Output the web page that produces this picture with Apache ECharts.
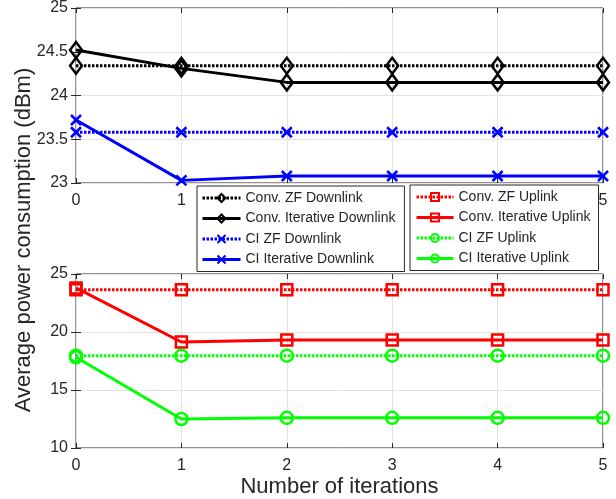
<!DOCTYPE html>
<html>
<head>
<meta charset="utf-8">
<script src="https://cdn.jsdelivr.net/npm/echarts@6/dist/echarts.min.js"></script>
<style>
  html, body { margin: 0; padding: 0; background: #fff; }
  #chart { width: 616px; height: 499px; }
</style>
</head>
<body>
<div id="chart"></div>
<script>
// iterations
var iterations = [0, 1, 2, 3, 4, 5];

// downlink (top panel)
var convZfDown = [24.34, 24.34, 24.34, 24.34, 24.34, 24.34];
var convIterDown = [24.52, 24.31, 24.15, 24.15, 24.15, 24.15];
var ciZfDown = [23.58, 23.58, 23.58, 23.58, 23.58, 23.58];
var ciIterDown = [23.72, 23.03, 23.08, 23.08, 23.08, 23.08];

// uplink (bottom panel)
var convZfUp = [23.65, 23.65, 23.65, 23.65, 23.65, 23.65];
var convIterUp = [23.8, 19.14, 19.3, 19.3, 19.3, 19.3];
var ciZfUp = [17.96, 17.96, 17.96, 17.96, 17.96, 17.96];
var ciIterUp = [17.82, 12.5, 12.6, 12.6, 12.6, 12.6];

var FONT = 'Liberation Sans';
var TXT = '#262626';
var X_MARK = 'path://M0,0L10,10M10,0L0,10';

function pairs(ys) {
	return iterations.map(function (x, i) { return [x, ys[i]]; });
}

function mkSeries(name, ys, color, dotted, symbol, size, panel) {
	return {
		name: name,
		type: 'line',
		xAxisIndex: panel * 2,
		yAxisIndex: panel * 2,
		data: pairs(ys),
		symbol: symbol,
		symbolSize: size,
		showAllSymbol: true,
		lineStyle: {
			color: color,
			width: 3,
			type: dotted ? [2.5, 1.5] : 'solid'
		},
		itemStyle: {
			color: 'transparent',
			borderColor: color,
			borderWidth: 2.5
		},
		emphasis: { disabled: true },
		animation: false
	};
}

function xAx(grid, pos, labels) {
	return {
		type: 'value', gridIndex: grid, position: pos,
		min: 0, max: 5, interval: 1,
		axisLine: { show: false },
		axisTick: { show: true, inside: true, length: 5, lineStyle: { color: TXT } },
		axisLabel: { show: labels, color: TXT, fontFamily: FONT, fontSize: 16, margin: 10 },
		splitLine: { show: labels, lineStyle: { color: '#e3e3e3', width: 1 } }
	};
}

function yAx(grid, pos, labels, min, max, step) {
	return {
		type: 'value', gridIndex: grid, position: pos,
		min: min, max: max, interval: step,
		axisLine: { show: false },
		axisTick: { show: true, inside: true, length: 5, lineStyle: { color: TXT } },
		axisLabel: { show: labels, color: TXT, fontFamily: FONT, fontSize: 16, margin: 8 },
		splitLine: { show: labels, lineStyle: { color: '#e3e3e3', width: 1 } }
	};
}

var xBottom = xAx(1, 'bottom', true);
xBottom.name = 'Number of iterations';
xBottom.nameLocation = 'middle';
xBottom.nameGap = 28;
xBottom.nameTextStyle = { color: TXT, fontFamily: FONT, fontSize: 22 };

var legendText = { color: TXT, fontFamily: FONT, fontSize: 14 };

var option = {
	backgroundColor: '#fff',
	grid: [
		{ left: 76, right: 13, top: 7, height: 176, show: true, borderColor: TXT, borderWidth: 1, backgroundColor: 'transparent' },
		{ left: 76, right: 13, top: 274, height: 174, show: true, borderColor: TXT, borderWidth: 1, backgroundColor: 'transparent' }
	],
	xAxis: [xAx(0, 'bottom', true), xAx(0, 'top', false), xBottom, xAx(1, 'top', false)],
	yAxis: [
		yAx(0, 'left', true, 23, 25, 0.5), yAx(0, 'right', false, 23, 25, 0.5),
		yAx(1, 'left', true, 10, 25, 5), yAx(1, 'right', false, 10, 25, 5)
	],
	legend: [
		{
			orient: 'vertical', left: 197, top: 186, z: 20,
			backgroundColor: '#fff', borderColor: TXT, borderWidth: 1,
			padding: [5, 9, 5, 4], itemGap: 6.5, itemWidth: 38, itemHeight: 10,
			lineStyle: { width: 3 },
			textStyle: legendText, selectedMode: false,
			data: ['Conv. ZF Downlink', 'Conv. Iterative Downlink', 'CI ZF Downlink', 'CI Iterative Downlink']
		},
		{
			orient: 'vertical', left: 410, top: 185, z: 20,
			backgroundColor: '#fff', borderColor: TXT, borderWidth: 1,
			padding: [5, 8, 5, 5], itemGap: 6.5, itemWidth: 37, itemHeight: 10,
			lineStyle: { width: 3 },
			textStyle: legendText, selectedMode: false,
			data: ['Conv. ZF Uplink', 'Conv. Iterative Uplink', 'CI ZF Uplink', 'CI Iterative Uplink']
		}
	],
	graphic: [{
		type: 'text',
		x: 24, y: 240,
		rotation: Math.PI / 2,
		style: {
			text: 'Average power consumption (dBm)',
			font: '22px "Liberation Sans"',
			fill: TXT,
			align: 'center',
			verticalAlign: 'middle'
		}
	}],
	series: [
		mkSeries('Conv. ZF Downlink', convZfDown, '#000000', true, 'diamond', [12, 16], 0),
		mkSeries('Conv. Iterative Downlink', convIterDown, '#000000', false, 'diamond', [12, 16], 0),
		mkSeries('CI ZF Downlink', ciZfDown, '#0000ff', true, X_MARK, 10, 0),
		mkSeries('CI Iterative Downlink', ciIterDown, '#0000ff', false, X_MARK, 10, 0),
		mkSeries('Conv. ZF Uplink', convZfUp, '#ff0000', true, 'rect', 11, 1),
		mkSeries('Conv. Iterative Uplink', convIterUp, '#ff0000', false, 'rect', 11, 1),
		mkSeries('CI ZF Uplink', ciZfUp, '#00ff00', true, 'circle', 12, 1),
		mkSeries('CI Iterative Uplink', ciIterUp, '#00ff00', false, 'circle', 12, 1)
	]
};

var chart = echarts.init(document.getElementById('chart'), null, { renderer: 'canvas' });
chart.setOption(option);
</script>
</body>
</html>
